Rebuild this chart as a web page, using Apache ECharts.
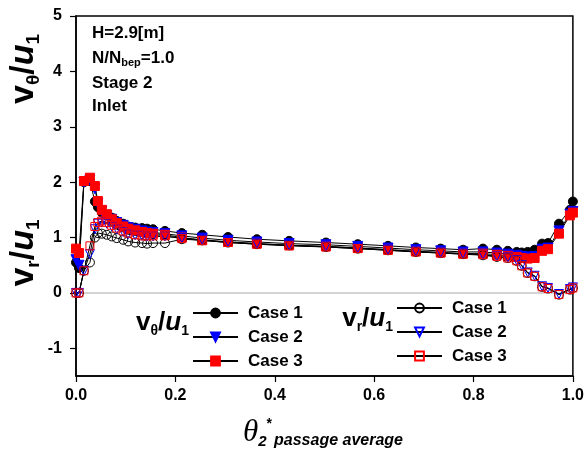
<!DOCTYPE html>
<html>
<head>
<meta charset="utf-8">
<script src="https://cdn.jsdelivr.net/npm/echarts@6/dist/echarts.min.js"></script>
<style>
  html, body { margin: 0; padding: 0; background: #fff; }
  #chart { width: 587px; height: 462px; }
</style>
</head>
<body>
<div id="chart"></div>
<script>
// passage-average positions (theta_2*)
const xPos = [
  0, 0.006, 0.016, 0.028, 0.038, 0.044, 0.052, 0.062, 0.072, 0.082, 0.095, 0.105, 0.119, 0.133, 0.143, 0.155, 0.179,
  0.213, 0.254, 0.306, 0.364, 0.429, 0.503, 0.567, 0.628, 0.684, 0.734, 0.779,
  0.819, 0.847, 0.869, 0.887, 0.897, 0.909, 0.923, 0.938, 0.95, 0.972, 0.994, 1.0
]

// v_theta / u_1
const vtCase1 = [
  0.55, 0.45, 2.0, 2.02, 1.65, 1.55, 1.45, 1.4, 1.36, 1.3, 1.25, 1.2, 1.18, 1.17, 1.16, 1.15, 1.12,
  1.08, 1.05, 1.01, 0.97, 0.94, 0.91, 0.88, 0.85, 0.82, 0.8, 0.78,
  0.8, 0.78, 0.76, 0.74, 0.73, 0.74, 0.78, 0.89, 0.9, 1.25, 1.5, 1.65
]
const vtCase2 = [
  0.6, 0.5, 2.0, 2.04, 1.88, 1.62, 1.48, 1.4, 1.33, 1.27, 1.22, 1.18, 1.15, 1.12, 1.1, 1.09, 1.07,
  1.03, 0.99, 0.95, 0.92, 0.89, 0.87, 0.84, 0.81, 0.78, 0.76, 0.74,
  0.74, 0.72, 0.7, 0.68, 0.66, 0.65, 0.66, 0.79, 0.81, 1.12, 1.42, 1.47
]
const vtCase3 = [
  0.8, 0.72, 2.02, 2.08, 1.93, 1.66, 1.5, 1.42, 1.33, 1.26, 1.2, 1.16, 1.13, 1.1, 1.08, 1.07, 1.05,
  1.0, 0.95, 0.92, 0.89, 0.86, 0.84, 0.81, 0.78, 0.75, 0.73, 0.71,
  0.71, 0.69, 0.67, 0.65, 0.63, 0.62, 0.63, 0.76, 0.79, 1.07, 1.4, 1.45
]

// v_r / u_1
const vrCase1 = [
  0, 0, 0.4, 0.55, 1.0, 1.08, 1.07, 1.05, 1.02, 0.99, 0.96, 0.93, 0.91, 0.9, 0.89, 0.9, 0.9,
  0.97, 0.95, 0.91, 0.88, 0.86, 0.83, 0.8, 0.77, 0.74, 0.72, 0.7,
  0.68, 0.65, 0.63, 0.58, 0.49, 0.36, 0.3, 0.11, 0.08, -0.03, 0.06, 0.09
]
const vrCase2 = [
  0, 0, 0.4, 0.7, 1.15, 1.25, 1.27, 1.25, 1.2, 1.15, 1.1, 1.06, 1.04, 1.03, 1.02, 1.02, 1.02,
  0.99, 0.96, 0.92, 0.89, 0.86, 0.84, 0.81, 0.78, 0.75, 0.73, 0.71,
  0.69, 0.66, 0.64, 0.59, 0.5, 0.37, 0.31, 0.12, 0.09, -0.02, 0.07, 0.1
]
const vrCase3 = [
  0, 0, 0.4, 0.85, 1.2, 1.27, 1.3, 1.27, 1.22, 1.17, 1.12, 1.08, 1.05, 1.03, 1.03, 1.03, 1.03,
  0.98, 0.95, 0.91, 0.88, 0.85, 0.83, 0.8, 0.77, 0.74, 0.72, 0.7,
  0.69, 0.66, 0.63, 0.58, 0.49, 0.36, 0.3, 0.11, 0.08, -0.03, 0.06, 0.09
]

const yTicks = [-1, 0, 1, 2, 3, 4, 5]
const caseNames = ['Case 1', 'Case 2', 'Case 3']

const FONT = 'Liberation Sans, Arial, sans-serif'

function pairs(vals) {
  return xPos.map((x, i) => [x, vals[i]])
}

function makeSeries(name, vals, symbol, size, fill, stroke, rotate) {
  return {
    name: name,
    type: 'line',
    data: pairs(vals),
    symbol: symbol,
    symbolSize: size,
    symbolRotate: rotate || 0,
    showSymbol: true,
    lineStyle: { color: '#000', width: 1 },
    itemStyle: { color: fill, borderColor: stroke, borderWidth: 1 },
    emphasis: { disabled: true },
    animation: false,
    z: 3
  }
}

const richBig = (size) => ({
  v: { fontSize: size, fontWeight: 'bold', fontFamily: FONT, color: '#000', lineHeight: size + 4 },
  u: { fontSize: size, fontWeight: 'bold', fontStyle: 'italic', fontFamily: FONT, color: '#000', lineHeight: size + 4 },
  s: { fontSize: Math.round(size * 0.55), fontWeight: 'bold', fontFamily: FONT, color: '#000',
       lineHeight: Math.round(size * 0.55), verticalAlign: 'bottom' }
})

const legendText = { fontSize: 17, fontWeight: 'bold', fontFamily: FONT, color: '#000', lineHeight: 20, padding: [0, 0, 0, 5] }

const chart = echarts.init(document.getElementById('chart'))

const option = {
  backgroundColor: '#fff',
  animation: false,
  grid: {
    left: 76, right: 14, top: 16, bottom: 86,
    show: true, borderColor: '#000', borderWidth: 1.5
  },
  xAxis: {
    type: 'value',
    min: 0, max: 1, interval: 0.2,
    splitLine: { show: false },
    axisLine: { onZero: false, lineStyle: { color: '#000', width: 1.5 } },
    axisTick: { inside: false, length: 6, lineStyle: { color: '#000', width: 1.2 } },
    axisLabel: {
      margin: 12, color: '#000', fontSize: 16, fontWeight: 'bold', fontFamily: FONT,
      formatter: (v) => v.toFixed(1)
    }
  },
  yAxis: {
    type: 'value',
    min: -1.5, max: 5,
    splitLine: { show: false },
    axisLine: { onZero: false, lineStyle: { color: '#000', width: 1.5 } },
    axisTick: { inside: false, length: 6, customValues: yTicks, lineStyle: { color: '#000', width: 1.2 } },
    axisLabel: {
      margin: 14, color: '#000', fontSize: 16, fontWeight: 'bold', fontFamily: FONT,
      customValues: yTicks
    }
  },
  legend: [
    {
      orient: 'vertical', left: 192, top: 303, padding: 0,
      itemWidth: 45, itemHeight: 11, itemGap: 4,
      data: caseNames.map((c) => 'vt ' + c),
      formatter: (n) => n.slice(3),
      textStyle: legendText,
      selectedMode: false
    },
    {
      orient: 'vertical', left: 396, top: 298, padding: 0,
      itemWidth: 45, itemHeight: 11, itemGap: 4,
      data: caseNames.map((c) => 'vr ' + c),
      formatter: (n) => n.slice(3),
      textStyle: legendText,
      selectedMode: false
    }
  ],
  graphic: [
    // y-axis titles
    {
      type: 'text', x: 24, y: 69, rotation: Math.PI / 2,
      style: { text: '{v|v}{s|θ}{v|/}{u|u}{s|1}', rich: richBig(34), align: 'center', verticalAlign: 'middle' }
    },
    {
      type: 'text', x: 24, y: 253, rotation: Math.PI / 2,
      style: { text: '{v|v}{s|r}{v|/}{u|u}{s|1}', rich: richBig(34), align: 'center', verticalAlign: 'middle' }
    },
    // legend titles
    {
      type: 'text', x: 189, y: 323,
      style: { text: '{v|v}{s|θ}{v|/}{u|u}{s|1}', rich: richBig(26), align: 'right', verticalAlign: 'middle' }
    },
    {
      type: 'text', x: 393, y: 319,
      style: { text: '{v|v}{s|r}{v|/}{u|u}{s|1}', rich: richBig(26), align: 'right', verticalAlign: 'middle' }
    },
    // annotation block
    {
      type: 'text', x: 92, y: 33,
      style: { text: 'H=2.9[m]', fontSize: 17, fontWeight: 'bold', fontFamily: FONT, fill: '#000', verticalAlign: 'middle' }
    },
    {
      type: 'text', x: 92, y: 58,
      style: {
        text: '{a|N/N}{b|bep}{a|=1.0}', verticalAlign: 'middle',
        rich: {
          a: { fontSize: 17, fontWeight: 'bold', fontFamily: FONT, color: '#000', lineHeight: 20 },
          b: { fontSize: 11, fontWeight: 'bold', fontFamily: FONT, color: '#000', lineHeight: 11, verticalAlign: 'bottom' }
        }
      }
    },
    {
      type: 'text', x: 92, y: 83,
      style: { text: 'Stage 2', fontSize: 17, fontWeight: 'bold', fontFamily: FONT, fill: '#000', verticalAlign: 'middle' }
    },
    {
      type: 'text', x: 92, y: 106,
      style: { text: 'Inlet', fontSize: 17, fontWeight: 'bold', fontFamily: FONT, fill: '#000', verticalAlign: 'middle' }
    },
    // x-axis title
    {
      type: 'text', x: 323, y: 433,
      style: {
        text: '{t|θ}{n|2}{st|*}{p|passage average}', align: 'center', verticalAlign: 'middle',
        rich: {
          t: { fontSize: 31, fontStyle: 'italic', fontFamily: 'Liberation Serif, serif', color: '#000', lineHeight: 32 },
          n: { fontSize: 15, fontStyle: 'italic', fontWeight: 'bold', fontFamily: FONT, color: '#000', lineHeight: 15, verticalAlign: 'bottom' },
          st: { fontSize: 14, fontWeight: 'bold', fontFamily: FONT, color: '#000', lineHeight: 14, verticalAlign: 'top' },
          p: { fontSize: 16, fontStyle: 'italic', fontWeight: 'bold', fontFamily: FONT, color: '#000', lineHeight: 16, verticalAlign: 'bottom', padding: [0, 0, 0, 2] }
        }
      }
    }
  ],
  series: [
    Object.assign(makeSeries('vt Case 1', vtCase1, 'circle', 9, '#000', '#000'), {
      markLine: {
        silent: true, symbol: 'none', label: { show: false },
        lineStyle: { color: '#d4d4d4', width: 2, type: 'solid' },
        data: [{ yAxis: 0 }], z: 1
      }
    }),
    makeSeries('vt Case 2', vtCase2, 'triangle', 10, '#0000ff', '#0000ff', 180),
    makeSeries('vt Case 3', vtCase3, 'rect', 9, '#ff0000', '#ff0000'),
    makeSeries('vr Case 1', vrCase1, 'circle', 9, 'rgba(255,255,255,0)', '#000'),
    makeSeries('vr Case 2', vrCase2, 'triangle', 9, 'rgba(255,255,255,0)', '#0000ff', 180),
    makeSeries('vr Case 3', vrCase3, 'rect', 8, 'rgba(255,255,255,0)', '#ff0000')
  ]
}

chart.setOption(option)
</script>
</body>
</html>
